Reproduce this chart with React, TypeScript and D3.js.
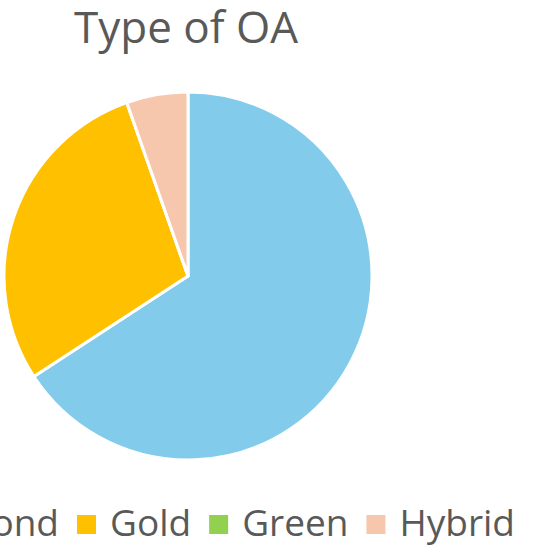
import React, { useEffect, useRef } from "react";
import * as d3 from "d3";

const categories = ["Diamond", "Gold", "Green", "Hybrid"];
const values = [65.8, 28.8, 0, 5.4];
const colors = ["#83CBEB", "#FFC000", "#92D050", "#F6C6AD"];
const title = "Type of OA";

const W = 538;
const H = 546;
const FONT = "'Open Sans', 'Liberation Sans', sans-serif";

export default function App() {
  const ref = useRef<SVGSVGElement>(null);

  useEffect(() => {
    const svg = d3.select(ref.current);
    svg.selectAll("*").remove();

    const cx = 188, cy = 276, r = 184;
    const pie = d3.pie<number>().sort(null).value((d) => d);
    const arcs = pie(values);
    const arc = d3.arc<d3.PieArcDatum<number>>().innerRadius(0).outerRadius(r);

    const g = svg.append("g").attr("transform", `translate(${cx},${cy})`);
    g.selectAll("path")
      .data(arcs)
      .join("path")
      .attr("d", arc)
      .attr("fill", (_, i) => colors[i])
      .attr("stroke", "#fff")
      .attr("stroke-width", 3)
      .attr("stroke-linejoin", "round");

    svg.append("text")
      .attr("x", 186)
      .attr("y", 43)
      .attr("text-anchor", "middle")
      .attr("font-family", FONT)
      .attr("font-size", 44)
      .attr("fill", "#595959")
      .text(title);

    // Legend
    const lg = svg.append("g");
    const fs = 37;
    const box = 19;
    const gapBoxText = 14;
    const gapItems = 18;
    const baseline = 536;
    const boxTop = 515;
    // measure widths
    const widths = categories.map((c) => {
      const t = lg.append("text").attr("font-family", FONT).attr("font-size", fs).text(c);
      const w = (t.node() as SVGTextElement).getComputedTextLength();
      t.remove();
      return w;
    });
    // anchor: Gold marker at x=77
    const xs: number[] = [];
    xs[1] = 77;
    xs[0] = xs[1] - gapItems - widths[0] - gapBoxText - box;
    for (let i = 2; i < categories.length; i++) {
      xs[i] = xs[i - 1] + box + gapBoxText + widths[i - 1] + gapItems;
    }
    categories.forEach((c, i) => {
      lg.append("rect")
        .attr("x", xs[i])
        .attr("y", boxTop)
        .attr("width", box)
        .attr("height", box)
        .attr("fill", colors[i]);
      lg.append("text")
        .attr("x", xs[i] + box + gapBoxText)
        .attr("y", baseline)
        .attr("font-family", FONT)
        .attr("font-size", fs)
        .attr("fill", "#595959")
        .text(c);
    });
  }, []);

  return (
    <svg
      ref={ref}
      width={W}
      height={H}
      style={{ position: "absolute", left: 0, top: 0, background: "#fff" }}
    />
  );
}
